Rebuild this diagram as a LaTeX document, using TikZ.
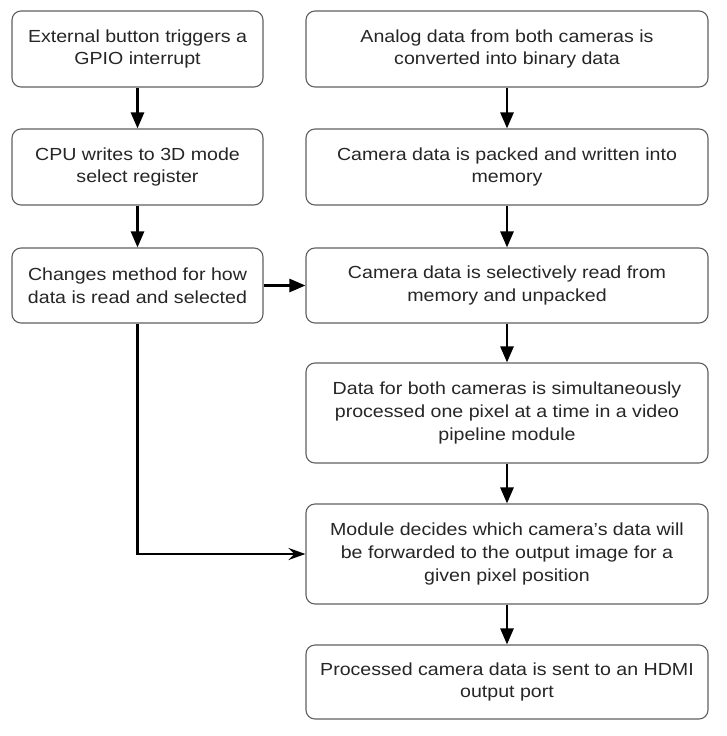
\documentclass[tikz,border=0pt]{standalone}
\usepackage{fontspec}
\setmainfont{Liberation Sans}[FakeStretch=1.12]
\usetikzlibrary{arrows.meta}
\definecolor{boxline}{HTML}{606060}
\tikzset{
  box/.style={draw=boxline, line width=1.1pt, rounded corners=9pt, fill=white,
    inner sep=0pt, align=center, font=\fontsize{17.5}{22.7}\selectfont, text=black!85},
  conn/.style={line width=2.6pt, -{Triangle[length=16pt,width=13pt]}},
  sconn/.style={line width=2.6pt, -{Stealth[length=17pt,width=12pt,inset=6pt]}},
}
\begin{document}
\begin{tikzpicture}[x=1pt,y=-1pt]
\useasboundingbox (0,0) rectangle (726,736);
\node[box, minimum width=251pt, minimum height=76pt] (l1) at (137.5,49) {External button triggers a\\GPIO interrupt};
\node[box, minimum width=251pt, minimum height=76pt] (l2) at (137.5,167) {CPU writes to 3D mode\\select register};
\node[box, minimum width=251pt, minimum height=75pt] (l3) at (137.5,285.5) {Changes method for how\\data is read and selected};
\node[box, minimum width=402pt, minimum height=76pt] (r1) at (507,49) {Analog data from both cameras is\\converted into binary data};
\node[box, minimum width=402pt, minimum height=76pt] (r2) at (507,167) {Camera data is packed and written into\\memory};
\node[box, minimum width=402pt, minimum height=75pt] (r3) at (507,285.5) {Camera data is selectively read from\\memory and unpacked};
\node[box, minimum width=402pt, minimum height=100pt] (r4) at (507,413) {Data for both cameras is simultaneously\\processed one pixel at a time in a video\\pipeline module};
\node[box, minimum width=402pt, minimum height=100pt] (r5) at (507,554) {Module decides which camera’s data will\\be forwarded to the output image for a\\given pixel position};
\node[box, minimum width=402pt, minimum height=74pt] (r6) at (507,682) {Processed camera data is sent to an HDMI\\output port};
\draw[conn] (l1.south) -- (l2.north);
\draw[conn] (l2.south) -- (l3.north);
\draw[conn] (r1.south) -- (r2.north);
\draw[conn] (r2.south) -- (r3.north);
\draw[conn] (r3.south) -- (r4.north);
\draw[conn] (r4.south) -- (r5.north);
\draw[conn] (r5.south) -- (r6.north);
\draw[conn] (l3.east) -- (r3.west);
\draw[sconn] (l3.south) |- (r5.west);
\end{tikzpicture}
\end{document}
